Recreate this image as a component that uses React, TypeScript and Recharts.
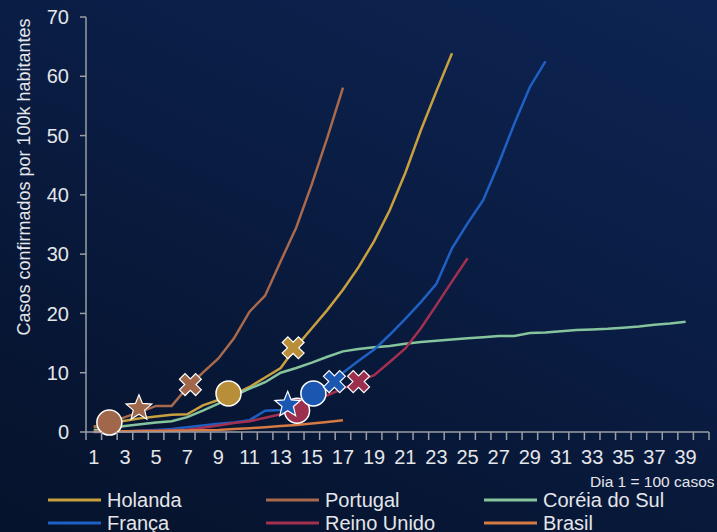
import React from 'react';
import { ComposedChart, Line, Scatter, XAxis, YAxis, Legend } from 'recharts';

// ---------- data (values per day, day 1 = 100 cases) ----------
const HOLANDA = [0.8, 1.5, 1.9, 2.3, 2.6, 2.9, 3.0, 4.5, 5.4, 6.3, 7.6, 9.2, 10.8, 14.4, 17.5, 20.6, 24.0, 27.8, 32.2, 37.4, 43.7, 50.9, 57.5, 63.9];
const PORTUGAL = [0.9, 1.5, 2.5, 3.4, 4.4, 4.4, 7.5, 10.0, 12.4, 15.8, 20.3, 23.0, 28.8, 34.5, 41.8, 49.7, 58.1];
const COREIA = [0.3, 0.6, 1.0, 1.3, 1.6, 1.8, 2.5, 3.6, 4.8, 6.1, 7.3, 8.4, 10.0, 10.8, 11.7, 12.7, 13.6, 14.0, 14.3, 14.5, 14.9, 15.2, 15.4, 15.6, 15.8, 16.0, 16.2, 16.2, 16.7, 16.8, 17.0, 17.2, 17.3, 17.4, 17.6, 17.8, 18.1, 18.3, 18.6];
const FRANCA = [0.0, 0.05, 0.1, 0.2, 0.35, 0.5, 0.8, 1.1, 1.4, 1.6, 2.0, 3.6, 3.7, 5.0, 6.3, 8.0, 10.0, 12.0, 13.9, 16.4, 19.1, 21.9, 25.0, 31.0, 35.2, 39.1, 45.3, 52.0, 58.2, 62.5];
const REINO_UNIDO = [0.0, 0.05, 0.1, 0.15, 0.2, 0.3, 0.4, 0.7, 1.1, 1.5, 1.8, 2.4, 3.0, 3.6, 5.0, 6.2, 7.3, 8.5, 9.6, 11.8, 14.1, 17.5, 21.4, 25.4, 29.3];
const BRASIL = [0.1, 0.1, 0.12, 0.15, 0.18, 0.2, 0.25, 0.3, 0.35, 0.5, 0.65, 0.8, 1.0, 1.2, 1.45, 1.7, 2.0];

// event markers (day, value, shape)
const PORTUGAL_EVENTS = [
  { day: 2, v: 1.6, shape: 'circle' },
  { day: 3.9, v: 4.0, shape: 'star' },
  { day: 7.2, v: 8.0, shape: 'x' },
];
const HOLANDA_EVENTS = [
  { day: 9.65, v: 6.5, shape: 'circle' },
  { day: 13.8, v: 14.2, shape: 'x' },
];
const REINO_UNIDO_EVENTS = [
  { day: 14.05, v: 3.6, shape: 'circle' },
  { day: 18, v: 8.5, shape: 'x' },
];
const FRANCA_EVENTS = [
  { day: 13.45, v: 4.6, shape: 'star' },
  { day: 15.1, v: 6.5, shape: 'circle' },
  { day: 16.45, v: 8.5, shape: 'x' },
];

const X_LABELS = [1, 3, 5, 7, 9, 11, 13, 15, 17, 19, 21, 23, 25, 27, 29, 31, 33, 35, 37, 39];
const Y_TICKS = [0, 10, 20, 30, 40, 50, 60, 70];
const DAY_COUNT = 40;

// ---------- styles ----------
const FONT = '"Liberation Sans", Arial, sans-serif';
const TEXT = '#e4e6ea';
const AXIS = '#9a9ea6';

const SERIES = [
  { name: 'Holanda', data: HOLANDA, color: '#c9a03f' },
  { name: 'Portugal', data: PORTUGAL, color: '#a9694c' },
  { name: 'Coréia do Sul', data: COREIA, color: '#86c49e' },
  { name: 'França', data: FRANCA, color: '#1f60c4' },
  { name: 'Reino Unido', data: REINO_UNIDO, color: '#a3304f' },
  { name: 'Brasil', data: BRASIL, color: '#d47a42' },
];

const MARKERS = [
  { name: 'Portugal', data: PORTUGAL_EVENTS, color: '#a0674b' },
  { name: 'Holanda', data: HOLANDA_EVENTS, color: '#b88f38' },
  { name: 'Reino Unido', data: REINO_UNIDO_EVENTS, color: '#9b2f4d' },
  { name: 'França', data: FRANCA_EVENTS, color: '#1b56b0' },
];

const toRows = (arr: number[]) => arr.map((v, i) => ({ day: i + 1, v }));

const boundaries: number[] = [];
for (let i = 0; i <= DAY_COUNT; i++) boundaries.push(i + 0.5);
const X_TICKS = [...boundaries, ...X_LABELS].sort((a, b) => a - b);

const XTick = (props: any) => {
  const { x, y, payload } = props;
  const val = payload.value;
  if (Math.abs(val % 1) > 0.01) {
    return <line x1={x} x2={x} y1={y} y2={y + 8} stroke={AXIS} strokeWidth={1.5} />;
  }
  return (
    <text x={x} y={y + 18} dy="0.71em" textAnchor="middle" fill={TEXT} fontSize={20} fontFamily={FONT}>
      {val}
    </text>
  );
};

const starPath = (cx: number, cy: number, R: number, r: number) => {
  const pts: string[] = [];
  for (let i = 0; i < 10; i++) {
    const rad = i % 2 === 0 ? R : r;
    const a = -Math.PI / 2 + (i * Math.PI) / 5;
    pts.push(`${cx + rad * Math.cos(a)},${cy + rad * Math.sin(a)}`);
  }
  return 'M' + pts.join('L') + 'Z';
};

const crossPath = (a: number, b: number) =>
  `M${-b},${-a}L${b},${-a}L${b},${-b}L${a},${-b}L${a},${b}L${b},${b}L${b},${a}L${-b},${a}L${-b},${b}L${-a},${b}L${-a},${-b}L${-b},${-b}Z`;

const Marker = (props: any) => {
  const { cx, cy, payload, fill } = props;
  if (cx == null || cy == null) return null;
  const shape = payload.shape;
  if (shape === 'circle') {
    return <circle cx={cx} cy={cy} r={12.5} fill={fill} stroke="#ffffff" strokeWidth={1.5} />;
  }
  if (shape === 'star') {
    return <path d={starPath(cx, cy, 13.5, 6)} fill={fill} stroke="#ffffff" strokeWidth={1.2} />;
  }
  return (
    <path
      d={crossPath(11.5, 4)}
      transform={`translate(${cx},${cy}) rotate(45)`}
      fill={fill}
      stroke="#ffffff"
      strokeWidth={1.2}
    />
  );
};

const LEGEND_COLS = [48, 266, 484];
const LegendContent = () => (
  <svg width={717} height={54} style={{ display: 'block' }}>
    {SERIES.map((s, i) => {
      const col = i % 3;
      const row = Math.floor(i / 3);
      const x = LEGEND_COLS[col];
      const yLine = 22 + row * 23;
      return (
        <g key={s.name}>
          <line x1={x} x2={x + 53} y1={yLine} y2={yLine} stroke={s.color} strokeWidth={3} />
          <text x={x + 59} y={yLine + 6.5} fill={TEXT} fontSize={20} fontFamily={FONT}>
            {s.name}
          </text>
        </g>
      );
    })}
  </svg>
);

const YLabel = () => (
  <text
    transform="translate(29.5,177) rotate(-90)"
    textAnchor="middle"
    fill={TEXT}
    fontSize={18}
    fontFamily={FONT}
  >
    Casos confirmados por 100k habitantes
  </text>
);

const XNote = () => (
  <text x={590} y={487} fill={TEXT} fontSize={15.5} fontFamily={FONT}>
    Dia 1 = 100 casos
  </text>
);

export default function App() {
  return (
    <div
      style={{
        position: 'absolute',
        left: 0,
        top: 0,
        width: 717,
        height: 532,
        overflow: 'hidden',
        background: 'linear-gradient(205deg, #0d2452 0%, #0a1d44 40%, #071634 75%, #06132c 100%)',
      }}
    >
      <ComposedChart width={717} height={532} margin={{ top: 17, right: 8, bottom: 0, left: 0 }}>
        <XAxis
          dataKey="day"
          type="number"
          domain={[0.5, DAY_COUNT + 0.5]}
          ticks={X_TICKS}
          interval={0}
          tick={<XTick />}
          tickLine={false}
          tickSize={0}
          tickMargin={0}
          height={100}
          axisLine={{ stroke: AXIS, strokeWidth: 1.5 }}
          allowDataOverflow
          label={{ content: () => <XNote /> }}
        />
        <YAxis
          type="number"
          domain={[0, 70]}
          ticks={Y_TICKS}
          interval={0}
          width={86}
          tickSize={6}
          tickMargin={11}
          tick={{ fill: TEXT, fontSize: 20, fontFamily: FONT }}
          tickLine={{ stroke: AXIS, strokeWidth: 1.5 }}
          axisLine={{ stroke: AXIS, strokeWidth: 1.5 }}
          label={{ content: () => <YLabel /> }}
        />
        <Legend
          layout="horizontal"
          verticalAlign="middle"
          align="center"
          wrapperStyle={{ left: 0, top: 478, width: 717, height: 54 }}
          content={() => <LegendContent />}
        />
        {SERIES.map((s) => (
          <Line
            key={s.name}
            name={s.name}
            data={toRows(s.data)}
            dataKey="v"
            stroke={s.color}
            strokeWidth={2.5}
            dot={false}
            activeDot={false}
            type="linear"
            isAnimationActive={false}
          />
        ))}
        {MARKERS.map((m) => (
          <Scatter
            key={'m-' + m.name}
            name={m.name + ' eventos'}
            data={m.data}
            dataKey="v"
            fill={m.color}
            shape={<Marker />}
            legendType="none"
            isAnimationActive={false}
          />
        ))}
      </ComposedChart>
    </div>
  );
}
